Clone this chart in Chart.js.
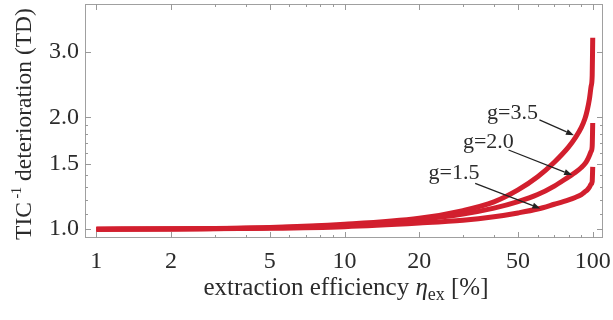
<!DOCTYPE html>
<html>
<head>
<meta charset="utf-8">
<script src="https://cdn.jsdelivr.net/npm/chart.js@4/dist/chart.umd.min.js"></script>
<style>
  html, body { margin: 0; padding: 0; background: #fff; }
  #wrap { width: 613px; height: 320px; }
</style>
</head>
<body>
<div id="wrap"><canvas id="chart"></canvas></div>
<script>
// extraction efficiency (%) and TD
const efficiency = [1, 2, 5, 10, 20, 30, 40, 50, 60, 70, 80, 85, 90, 93, 95, 97, 98.5, 99.5, 100];
const tdG15 = [1.0, 1.001, 1.006, 1.016, 1.039, 1.057, 1.080, 1.106, 1.133, 1.167, 1.199, 1.217, 1.239, 1.26, 1.275, 1.298, 1.322, 1.343, 1.47];
const tdG20 = [1.0, 1.002, 1.009, 1.025, 1.062, 1.098, 1.139, 1.186, 1.239, 1.306, 1.383, 1.42, 1.465, 1.499, 1.532, 1.578, 1.618, 1.669, 1.93];
const tdG35 = [1.0, 1.0025, 1.011, 1.031, 1.07, 1.122, 1.184, 1.275, 1.383, 1.513, 1.664, 1.759, 1.878, 1.98, 2.087, 2.24, 2.42, 2.585, 3.27];
const seriesNames = ["g=1.5", "g=2.0", "g=3.5"];

const xTicks = [1, 2, 5, 10, 20, 50, 100];
const xMinorTicks = [3, 4, 6, 7, 8, 9, 30, 40, 60, 70, 80, 90];
const yTicks = [1.0, 1.5, 2.0, 3.0];
const yMinorTicks = [1.1, 1.2, 1.3, 1.4, 1.6, 1.7, 1.8, 1.9];

// labels with arrows, in data coordinates: text at, arrow from, arrow to
const notes = [
  { text: "g=3.5", at: [37.5, 1.976], from: [61, 1.967], to: [84, 1.79] },
  { text: "g=2.0", at: [30.0, 1.65], from: [45.8, 1.633], to: [82.6, 1.398] },
  { text: "g=1.5", at: [21.8, 1.361], from: [33.6, 1.328], to: [61.5, 1.137] }
];

const RED = "#d21f2e";
const SERIF = "'Liberation Serif', 'DejaVu Serif', serif";
const INK = "#2b2b2b";

function pts(ys) {
  return efficiency.map((x, i) => ({ x: x, y: ys[i] }));
}

function noPad(s) {
  s.paddingTop = 0; s.paddingBottom = 0; s.paddingLeft = 0; s.paddingRight = 0;
}

const framePlugin = {
  id: "frame",
  beforeDatasetsDraw(chart) {
    const { ctx, chartArea: a, scales } = chart;
    ctx.save();
    ctx.lineWidth = 1;
    ctx.strokeStyle = "#a0a0a0";
    ctx.strokeRect(a.left + 0.5, a.top + 0.5, a.right - a.left - 1, a.bottom - a.top - 1);
    ctx.strokeStyle = "#999";
    const tick = (x1, y1, x2, y2) => {
      ctx.beginPath(); ctx.moveTo(x1, y1); ctx.lineTo(x2, y2); ctx.stroke();
    };
    xTicks.concat(xMinorTicks).forEach(v => {
      const len = xTicks.includes(v) ? 6 : 3;
      const px = Math.round(scales.x.getPixelForValue(v)) + 0.5;
      tick(px, a.bottom, px, a.bottom - len);
      tick(px, a.top, px, a.top + len);
    });
    yTicks.concat(yMinorTicks).forEach(v => {
      const len = yTicks.includes(v) ? 6 : 3;
      const py = Math.round(scales.y.getPixelForValue(v)) + 0.5;
      tick(a.left, py, a.left + len, py);
      tick(a.right, py, a.right - len, py);
    });
    ctx.restore();
  },
  afterDatasetsDraw(chart) {
    const { ctx, scales } = chart;
    ctx.save();
    ctx.font = "22px " + SERIF;
    ctx.fillStyle = INK;
    ctx.strokeStyle = "#222";
    ctx.lineWidth = 1.2;
    notes.forEach(n => {
      const tx = scales.x.getPixelForValue(n.at[0]);
      const ty = scales.y.getPixelForValue(n.at[1]);
      ctx.textAlign = "left";
      ctx.textBaseline = "alphabetic";
      ctx.fillText(n.text, tx, ty);
      const x1 = scales.x.getPixelForValue(n.from[0]);
      const y1 = scales.y.getPixelForValue(n.from[1]);
      const x2 = scales.x.getPixelForValue(n.to[0]);
      const y2 = scales.y.getPixelForValue(n.to[1]);
      const ang = Math.atan2(y2 - y1, x2 - x1);
      const hl = 8, hw = 3;
      const bx = x2 - hl * Math.cos(ang), by = y2 - hl * Math.sin(ang);
      ctx.beginPath(); ctx.moveTo(x1, y1); ctx.lineTo(bx, by); ctx.stroke();
      ctx.beginPath();
      ctx.moveTo(x2, y2);
      ctx.lineTo(bx + hw * Math.sin(ang), by - hw * Math.cos(ang));
      ctx.lineTo(bx - hw * Math.sin(ang), by + hw * Math.cos(ang));
      ctx.closePath();
      ctx.fillStyle = "#222";
      ctx.fill();
      ctx.fillStyle = INK;
    });

    // x axis title: extraction efficiency η_ex [%]
    const big = "25px " + SERIF, small = "18px " + SERIF;
    const parts = [
      { t: "extraction efficiency ", f: big, dy: 0 },
      { t: "\u03b7", f: "italic " + big, dy: 0 },
      { t: "ex", f: small, dy: 5 },
      { t: " [%]", f: big, dy: 0 }
    ];
    let w = 0;
    parts.forEach(p => { ctx.font = p.f; p.w = ctx.measureText(p.t).width; w += p.w; });
    let x = 346 - w / 2;
    ctx.textAlign = "left";
    ctx.textBaseline = "alphabetic";
    parts.forEach(p => { ctx.font = p.f; ctx.fillText(p.t, x, 295 + p.dy); x += p.w; });

    // y axis title: TIC^-1 deterioration (TD)
    const ybig = "23.5px " + SERIF;
    const yparts = [
      { t: "TIC", f: ybig, dy: 0 },
      { t: " -1", f: "14px " + SERIF, dy: -10 },
      { t: " deterioration (TD)", f: ybig, dy: 0 }
    ];
    w = 0;
    yparts.forEach(p => { ctx.font = p.f; p.w = ctx.measureText(p.t).width; w += p.w; });
    ctx.translate(31, 124);
    ctx.rotate(-Math.PI / 2);
    x = -w / 2;
    yparts.forEach(p => { ctx.font = p.f; ctx.fillText(p.t, x, p.dy); x += p.w; });
    ctx.restore();
  }
};

new Chart(document.getElementById("chart"), {
  type: "line",
  data: {
    datasets: [
      { label: seriesNames[0], data: pts(tdG15) },
      { label: seriesNames[1], data: pts(tdG20) },
      { label: seriesNames[2], data: pts(tdG35) }
    ].map(d => Object.assign(d, {
      borderColor: RED,
      borderWidth: 5,
      pointRadius: 0,
      fill: false,
      cubicInterpolationMode: "monotone",
      borderCapStyle: "butt"
    }))
  },
  options: {
    responsive: true,
    maintainAspectRatio: false,
    animation: false,
    layout: { padding: { top: 4, right: 10, left: 0, bottom: 0 } },
    plugins: {
      legend: { display: false },
      tooltip: { enabled: false }
    },
    scales: {
      x: {
        type: "logarithmic",
        min: 0.9,
        max: 110,
        grid: { display: false, drawTicks: false },
        border: { display: false },
        afterBuildTicks: s => { s.ticks = xTicks.map(v => ({ value: v })); },
        afterFit: s => { s.height = 82; noPad(s); },
        ticks: {
          autoSkip: false,
          maxRotation: 0,
          padding: 9,
          color: INK,
          font: { family: SERIF, size: 24 },
          callback: v => String(v)
        }
      },
      y: {
        type: "logarithmic",
        min: 0.947,
        max: 4.03,
        grid: { display: false, drawTicks: false },
        border: { display: false },
        afterBuildTicks: s => { s.ticks = yTicks.map(v => ({ value: v })); },
        afterFit: s => { s.width = 85; noPad(s); },
        ticks: {
          autoSkip: false,
          padding: 6,
          color: INK,
          font: { family: SERIF, size: 24 },
          callback: v => Number(v).toFixed(1)
        }
      }
    }
  },
  plugins: [framePlugin]
});
</script>
</body>
</html>
